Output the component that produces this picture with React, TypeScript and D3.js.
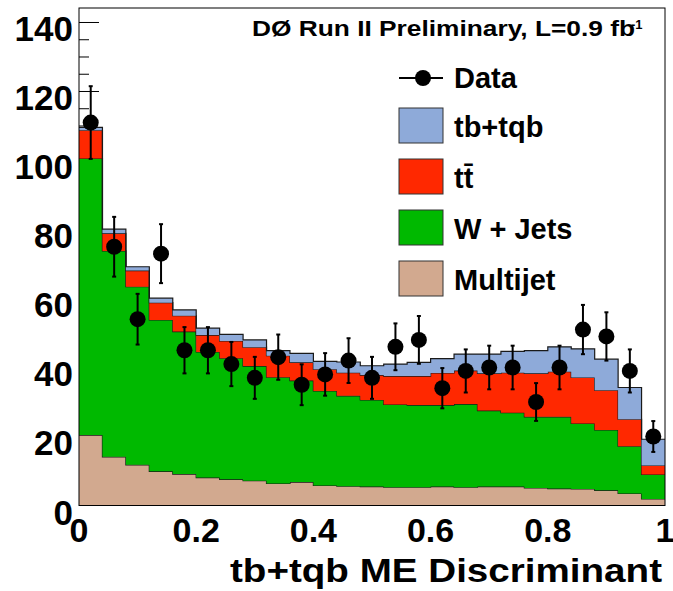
import React from "react";
import * as d3 from "d3";

// 25 bins of width 0.04 on the ME discriminant
const binEdges = d3.range(26).map((i) => +(i * 0.04).toFixed(2));

const dataCounts = [111, 75, 54, 73, 45, 45, 41, 37, 43, 35, 38, 42, 37, 46, 48, 34, 39, 40, 40, 30, 40, 51, 49, 39, 20];

// background stack, bottom to top
const multijet = [20.4, 14.1, 11.8, 9.9, 9.1, 8.1, 7.6, 7.2, 6.4, 6.8, 5.8, 5.6, 5.5, 5.3, 5.3, 5.5, 5.3, 5.5, 5.5, 5.1, 4.9, 4.8, 4.4, 3.5, 1.9];
const wjets = [80.2, 59.7, 51.6, 43.9, 41.3, 36.4, 35.1, 33.2, 30.8, 29.4, 27.4, 26.2, 25.1, 24.0, 23.8, 23.6, 24.1, 22.0, 21.4, 20.6, 20.8, 19.0, 17.5, 13.7, 7.1];
const ttbar = [8.2, 5.1, 4.7, 5.0, 4.6, 4.9, 5.0, 5.5, 6.2, 5.3, 6.3, 6.7, 7.2, 8.2, 8.4, 9.3, 9.7, 10.8, 11.6, 12.6, 13.1, 13.3, 11.5, 7.8, 2.6];
const tbtqb = [0.8, 1.2, 1.1, 1.3, 1.7, 2.0, 1.9, 2.1, 1.5, 2.6, 2.3, 3.1, 2.7, 3.5, 4.0, 4.2, 4.8, 5.6, 6.2, 6.6, 7.2, 8.3, 9.0, 9.2, 7.6];

const yTicks = [0, 20, 40, 60, 80, 100, 120, 140];
const xTicks = [0, 0.2, 0.4, 0.6, 0.8, 1];

const keys = ["multijet", "wjets", "ttbar", "tbtqb"];
const colors: Record<string, string> = {
  multijet: "#d2a98f",
  wjets: "#00b900",
  ttbar: "#ff2800",
  tbtqb: "#8eaad9",
};
const legendItems = [
  { key: "tbtqb", label: "tb+tqb" },
  { key: "ttbar", label: "tt\u0304" },
  { key: "wjets", label: "W + Jets" },
  { key: "multijet", label: "Multijet" },
];

const W = 673;
const H = 591;
const frame = { left: 79, right: 665, top: 8, bottom: 505.5 };
const font = "'Liberation Sans', Arial, Helvetica, sans-serif";

export default function App() {
  const x = d3.scaleLinear().domain([0, 1]).range([frame.left, frame.right]);
  const y = d3.scaleLinear().domain([0, 144.2]).range([frame.bottom, frame.top]);

  const rows = dataCounts.map((_, i) => ({
    multijet: multijet[i],
    wjets: wjets[i],
    ttbar: ttbar[i],
    tbtqb: tbtqb[i],
  }));
  const stacked = d3.stack<any>().keys(keys)(rows);

  const stepIdx = binEdges.map((_, i) => Math.min(i, dataCounts.length - 1));
  const area = (s: any) =>
    d3
      .area<number>()
      .x((i, k) => x(binEdges[k]))
      .y0((i) => y(s[i][0]))
      .y1((i) => y(s[i][1]))
      .curve(d3.curveStepAfter)(stepIdx);
  const topLine = (s: any) =>
    d3
      .line<number>()
      .x((i, k) => x(binEdges[k]))
      .y((i) => y(s[i][1]))
      .curve(d3.curveStepAfter)(stepIdx);

  const minor = d3.range(0, 145, 5);

  return (
    <svg width={W} height={H} style={{ position: "absolute", left: 0, top: 0, background: "#fff" }} fontFamily={font} fontWeight="bold">
      <rect x={0} y={0} width={W} height={H} fill="#fff" />
      {/* y ticks */}
      {minor.map((v) => (
        <line key={v} x1={frame.left} x2={frame.left + (v % 20 === 0 ? 20 : 10)} y1={y(v)} y2={y(v)} stroke="#000" strokeWidth={1} />
      ))}
      {/* stacked backgrounds */}
      {stacked.map((s) => (
        <g key={s.key}>
          <path d={area(s) || ""} fill={colors[s.key]} stroke="none" />
          <path d={topLine(s) || ""} fill="none" stroke="#1a1a1a" strokeWidth={1.2} />
        </g>
      ))}
      {/* data */}
      {dataCounts.map((n, i) => {
        const cx = x((binEdges[i] + binEdges[i + 1]) / 2);
        const e = Math.sqrt(n);
        return (
          <g key={i}>
            <line x1={cx} x2={cx} y1={y(n + e)} y2={y(n - e)} stroke="#000" strokeWidth={2} />
            <line x1={cx - 2} x2={cx + 2} y1={y(n + e)} y2={y(n + e)} stroke="#000" strokeWidth={2} />
            <line x1={cx - 2} x2={cx + 2} y1={y(n - e)} y2={y(n - e)} stroke="#000" strokeWidth={2} />
            <circle cx={cx} cy={y(n)} r={8} fill="#000" />
          </g>
        );
      })}
      {/* frame */}
      <rect x={frame.left} y={frame.top} width={frame.right - frame.left} height={frame.bottom - frame.top} fill="none" stroke="#000" strokeWidth={1} />
      {/* y labels */}
      {yTicks.map((v) => (
        <text key={v} x={73} y={y(v) + 19} textAnchor="end" fontSize={35}>
          {v}
        </text>
      ))}
      {/* x labels */}
      {xTicks.map((v) => (
        <text key={v} x={x(v)} y={542} textAnchor="middle" fontSize={34}>
          {d3.format("~g")(v)}
        </text>
      ))}
      <text x={662} y={582} textAnchor="end" fontSize={33} textLength={432} lengthAdjust="spacingAndGlyphs">
        tb+tqb ME Discriminant
      </text>
      {/* header */}
      <text x={252} y={36} fontSize={22} textLength={383} lengthAdjust="spacingAndGlyphs">
        DØ Run II Preliminary, L=0.9 fb
      </text>
      <text x={631} y={29} fontSize={13}>
        -1
      </text>
      {/* legend */}
      <line x1={399} x2={443} y1={78} y2={78} stroke="#000" strokeWidth={2} />
      <circle cx={423} cy={78} r={8} fill="#000" />
      <text x={454} y={88} fontSize={29}>
        Data
      </text>
      {legendItems.map((it, k) => (
        <g key={it.key}>
          <rect x={399} y={108 + k * 51} width={44} height={35} fill={colors[it.key]} stroke="#333" strokeWidth={1} />
          <text x={454} y={137 + k * 51} fontSize={29}>
            {it.label}
          </text>
        </g>
      ))}
    </svg>
  );
}
